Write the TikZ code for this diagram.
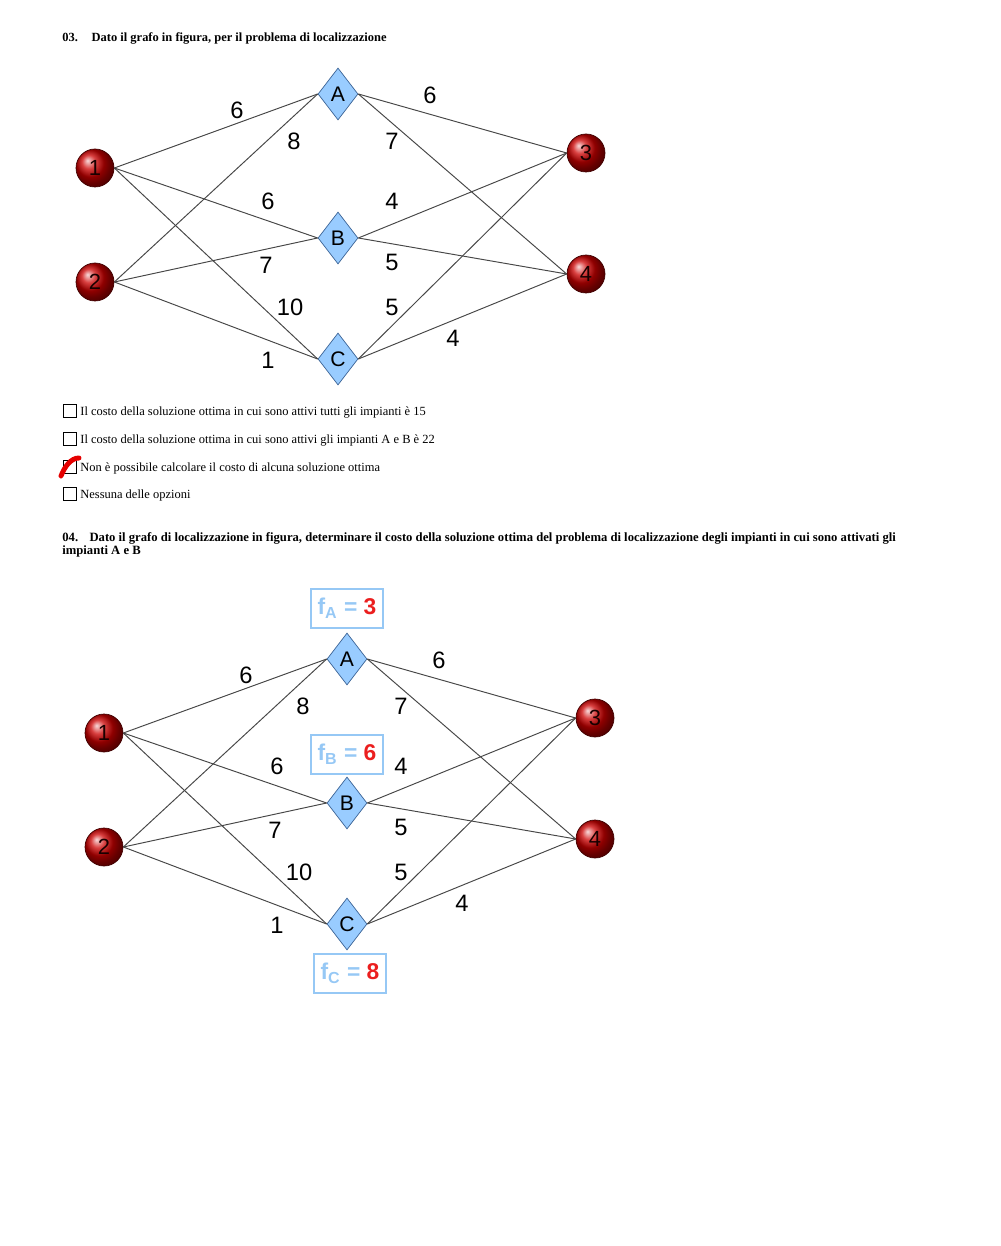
\documentclass[tikz,border=0pt]{standalone}
\usepackage{fontspec}
\setmainfont{Liberation Serif}
\newfontfamily\arial{Liberation Sans}
\usetikzlibrary{shapes.geometric, positioning}

\definecolor{diamfill}{RGB}{153,204,255}
\definecolor{diamdraw}{RGB}{60,100,150}
\definecolor{costblue}{RGB}{150,200,245}
\definecolor{costred}{RGB}{235,30,30}

\begin{document}
\begin{tikzpicture}[
  x=0.02cm, y=-0.02cm,
  client/.style={circle, minimum size=0.76cm, inner sep=0pt, draw=red!25!black, shading=ball, ball color=red!80!black, font=\arial\fontsize{12.5}{12.5}\selectfont, text=red!10!black},
  plant/.style={diamond, minimum width=0.8cm, minimum height=1.04cm, inner sep=0pt, draw=diamdraw, fill=diamfill, font=\arial\fontsize{12}{12}\selectfont},
  arc/.style={draw=black!72, line width=0.55pt},
  wt/.style={font=\arial\fontsize{13.5}{13.5}\selectfont, inner sep=0pt},
  cost/.style={draw=costblue, line width=0.8pt, minimum width=1.44cm, minimum height=0.78cm, inner sep=0pt, font=\arial\bfseries\fontsize{13}{13}\selectfont, text=costblue},
  tickbox/.style={draw, line width=0.6pt, minimum size=0.26cm, inner sep=0pt},
  opt/.style={font=\fontsize{7.1}{8}\selectfont, anchor=base west, inner sep=0pt},
  ques/.style={font=\bfseries\fontsize{7.1}{8}\selectfont, anchor=base west, inner sep=0pt}
]
  \useasboundingbox (0,0) rectangle (1000,1246);

  % domanda 03
  \node[ques] (q3) at (62,42) {03.\hspace{1.1em}Dato il grafo in figura, per il problema di localizzazione};

  % i due grafi (stessa struttura, il secondo spostato)
  \foreach \s/\dx/\dy in {u/0/0, d/9/565} {
    \begin{scope}[shift={(\dx,\dy)}]
      \node[client] (c1\s) at (95,168) {1};
      \node[client] (c2\s) at (95,282) {2};
      \node[plant] (pa\s) at (338,94) {A};
      \node[plant] (pb\s) at (338,238) {B};
      \node[plant] (pc\s) at (338,359) {C};
      \node[client] (c3\s) at (586,153) {3};
      \node[client] (c4\s) at (586,274) {4};

      \foreach \c in {1,2}
        \foreach \p in {a,b,c}
          \draw[arc] (c\c\s.east) -- (p\p\s.west);
      \foreach \p in {a,b,c}
        \foreach \c in {3,4}
          \draw[arc] (p\p\s.east) -- (c\c\s.west);

      % costi
      \node[wt] (w1a\s) at (237,110) {6};
      \node[wt] (w2a\s) at (294,141) {8};
      \node[wt] (w1b\s) at (268,201) {6};
      \node[wt] (w2b\s) at (266,265) {7};
      \node[wt] (w1c\s) at (290,307) {10};
      \node[wt] (w2c\s) at (268,360) {1};
      \node[wt] (wa3\s) at (430,95) {6};
      \node[wt] (wa4\s) at (392,141) {7};
      \node[wt] (wb3\s) at (392,201) {4};
      \node[wt] (wb4\s) at (392,262) {5};
      \node[wt] (wc3\s) at (392,307) {5};
      \node[wt] (wc4\s) at (453,338) {4};
    \end{scope}
  }

  % risposte
  \node[tickbox] (b1) at (70,411) {};
  \node[tickbox] (b2) at (70,439) {};
  \node[tickbox] (b3) at (70,467) {};
  \node[tickbox] (b4) at (70,494) {};
  \node[opt] (o1) at (80,415) {Il costo della soluzione ottima in cui sono attivi tutti gli impianti è 15};
  \node[opt] (o2) at (80,443) {Il costo della soluzione ottima in cui sono attivi gli impianti A e B è 22};
  \node[opt] (o3) at (80,471) {Non è possibile calcolare il costo di alcuna soluzione ottima};
  \node[opt] (o4) at (80,498) {Nessuna delle opzioni};
  \draw[red!90!black, line width=2.8pt, line cap=round] (61,476) .. controls (65,466) and (71,458) .. (79,458);

  % domanda 04
  \node[ques, font=\bfseries\fontsize{7.2}{8}\selectfont] (q4) at (62,541) {04.\hspace{0.9em}Dato il grafo di localizzazione in figura, determinare il costo della soluzione ottima del problema di localizzazione degli impianti in cui sono attivati gli};
  \node[ques, font=\bfseries\fontsize{7.2}{8}\selectfont] (q4b) at (62,554) {impianti A e B};

  % costi fissi
  \node[cost, above=0.08cm of pad] (fa) {f\textsubscript{A} = \textcolor{costred}{3}};
  \node[cost, above=0.04cm of pbd] (fb) {f\textsubscript{B} = \textcolor{costred}{6}};
  \node[cost, below=0.06cm of pcd, xshift=0.06cm] (fc) {f\textsubscript{C} = \textcolor{costred}{8}};
\end{tikzpicture}
\end{document}
